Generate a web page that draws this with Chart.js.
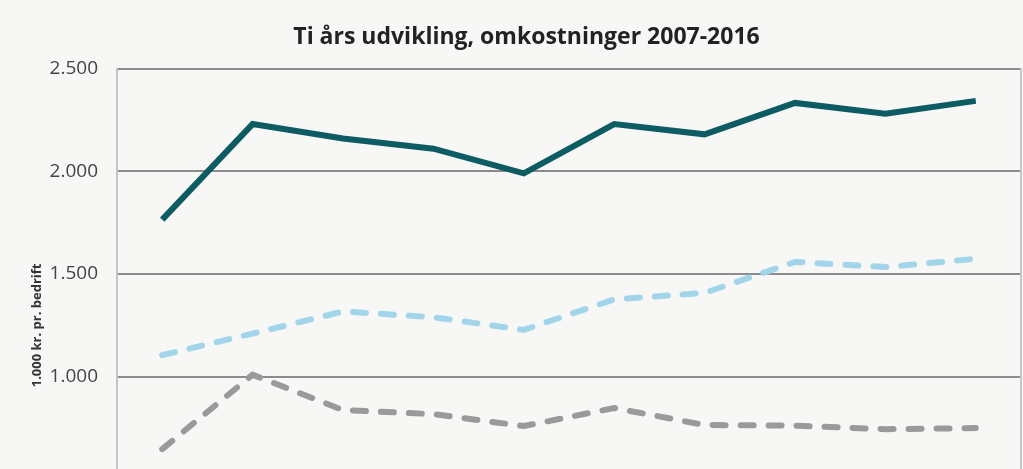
<!DOCTYPE html>
<html>
<head>
<meta charset="utf-8">
<script src="https://cdn.jsdelivr.net/npm/chart.js@4.4.1/dist/chart.umd.min.js"></script>
<style>
  html, body { margin: 0; padding: 0; background: #f7f7f5; overflow: hidden; }
  #wrap { position: relative; width: 1023px; height: 619px; }
</style>
</head>
<body>
<div id="wrap"><canvas id="graf"></canvas></div>
<script>
// Data
const aar = ['2007', '2008', '2009', '2010', '2011', '2012', '2013', '2014', '2015', '2016'];
const serieTotal = [1765, 2230, 2160, 2110, 1990, 2230, 2180, 2333, 2280, 2343];
const serieLysBlaa = [1105, 1210, 1318, 1290, 1228, 1377, 1408, 1559, 1534, 1574];
const serieGraa = [648, 1010, 838, 818, 760, 848, 765, 762, 745, 750];

function formatTal(v) {
  // dansk tusindtalsseparator
  return String(v).replace(/\B(?=(\d{3})+(?!\d))/g, '.');
}

const ctx = document.getElementById('graf').getContext('2d');

new Chart(ctx, {
  type: 'line',
  data: {
    labels: aar,
    datasets: [
      {
        label: 'Omkostninger i alt',
        data: serieTotal,
        borderColor: '#0d5c63',
        borderWidth: 6,
        pointRadius: 0,
        tension: 0,
        fill: false
      },
      {
        label: 'Serie 2',
        data: serieLysBlaa,
        borderColor: '#a3d5ea',
        borderWidth: 6,
        borderDash: [13, 15],
        borderCapStyle: 'round',
        pointRadius: 0,
        tension: 0,
        fill: false
      },
      {
        label: 'Serie 3',
        data: serieGraa,
        borderColor: '#9a9a9a',
        borderWidth: 6,
        borderDash: [13, 15],
        borderCapStyle: 'round',
        pointRadius: 0,
        tension: 0,
        fill: false
      }
    ]
  },
  options: {
    responsive: true,
    maintainAspectRatio: false,
    animation: false,
    layout: { padding: { left: 30, right: 0, top: 0, bottom: 0 } },
    plugins: {
      legend: { display: false },
      tooltip: { enabled: false },
      title: {
        display: true,
        text: 'Ti års udvikling, omkostninger 2007-2016',
        color: '#222',
        font: { family: 'Open Sans', size: 23, weight: 'bold' },
        padding: { top: 24, bottom: 17 }
      }
    },
    scales: {
      x: {
        offset: true,
        grid: { display: false },
        border: { display: false },
        ticks: { color: '#444', font: { family: 'Open Sans', size: 19 } }
      },
      y: {
        min: 0,
        max: 2500,
        afterFit: function (scale) { scale.width = 87; },
        ticks: {
          stepSize: 500,
          padding: 19,
          color: '#444',
          font: { family: 'Open Sans', size: 19 },
          callback: function (v) { return formatTal(v); }
        },
        grid: { color: '#8c8c8c', lineWidth: 2, drawTicks: false },
        border: { display: true, color: '#c4c4c4', width: 2 },
        title: {
          display: true,
          text: '1.000 kr. pr. bedrift',
          color: '#333',
          font: { family: 'Open Sans', size: 13, weight: 'bold' },
          padding: { top: -1, bottom: 0 }
        }
      },
      y2: {
        position: 'right',
        min: 0,
        max: 2500,
        afterFit: function (scale) { scale.width = 2; },
        ticks: { display: false },
        grid: { display: false, drawTicks: false },
        border: { display: true, color: '#c4c4c4', width: 2 }
      }
    }
  }
});
</script>
</body>
</html>
